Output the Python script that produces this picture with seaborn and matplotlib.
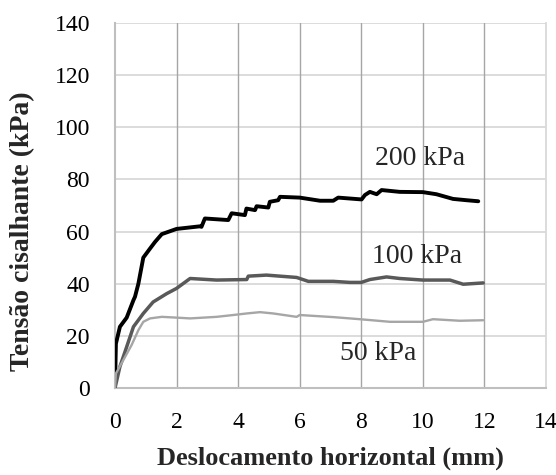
import matplotlib
matplotlib.use("Agg")
import matplotlib.pyplot as plt
import seaborn as sns
import pandas as pd

# 200 kPa series
x200 = [0, 0.03, 0.16, 0.38, 0.6, 0.65, 0.76, 0.92, 1.14, 1.3, 1.52, 2.0, 2.76, 2.81, 2.92,
        3.68, 3.79, 4.22, 4.27, 4.55, 4.6, 4.98, 5.03, 5.3, 5.36, 6.0, 6.66, 7.09, 7.25,
        8.01, 8.12, 8.28, 8.5, 8.66, 9.25, 10.0, 10.44, 10.98, 11.42, 11.8]
y200 = [0, 17, 23.5, 27, 33.7, 35, 40, 50, 53.5, 56, 59, 61, 62, 61.8, 65,
        64.4, 67, 66.3, 68.8, 68.2, 69.7, 69.2, 71.4, 72, 73.3, 73, 71.8, 71.8, 73,
        72.3, 74, 75.2, 74.3, 75.9, 75.2, 75.1, 74.3, 72.5, 72, 71.6]

# 100 kPa series
x100 = [0, 0.16, 0.38, 0.6, 0.92, 1.24, 1.68, 2.0, 2.44, 3.3, 4.28, 4.33, 4.92, 5.9,
        6.28, 7.09, 7.63, 8.0, 8.28, 8.82, 9.25, 10.0, 10.88, 11.31, 11.96]
y100 = [0, 8.2, 15.8, 23.5, 28.6, 33, 36.2, 38.2, 42, 41.4, 41.6, 42.9, 43.3, 42.4,
        40.9, 40.9, 40.5, 40.5, 41.6, 42.6, 42, 41.4, 41.4, 39.8, 40.3]

# 50 kPa series
x50 = [0, 0.03, 0.27, 0.54, 0.76, 0.92, 1.14, 1.52, 2.0, 2.44, 3.3, 3.84, 4.28, 4.71,
       5.14, 5.9, 6.0, 7.09, 7.95, 8.93, 10.0, 10.33, 11.2, 11.96]
y50 = [0, 5.6, 10.7, 16.5, 22.2, 25.4, 26.7, 27.3, 27, 26.7, 27.3, 28, 28.6, 29.1,
       28.6, 27.3, 28, 27.2, 26.4, 25.4, 25.4, 26.4, 25.8, 26]

labels = ["200 kPa", "100 kPa", "50 kPa"]
label_pos_x = [9.9, 9.8, 8.55]
label_pos_y = [88, 50.3, 13.3]
xticks = [0, 2, 4, 6, 8, 10, 12, 14]
yticks = [0, 20, 40, 60, 80, 100, 120, 140]

df = pd.concat([
    pd.DataFrame({"x": x200, "y": y200, "s": labels[0]}),
    pd.DataFrame({"x": x100, "y": y100, "s": labels[1]}),
    pd.DataFrame({"x": x50, "y": y50, "s": labels[2]}),
], ignore_index=True)

sns.set_style("white")
plt.rcParams["font.family"] = ["Liberation Serif", "DejaVu Serif"]

fig = plt.figure(figsize=(5.56, 4.75), dpi=100)
ax = fig.add_axes([0.2068, 0.183, 0.982 - 0.2068, 0.952 - 0.183])

palette = {labels[0]: "#000000", labels[1]: "#595959", labels[2]: "#a6a6a6"}
widths = {labels[0]: 2.8, labels[1]: 2.5, labels[2]: 1.7}
for s in labels:
    sub = df[df["s"] == s]
    sns.lineplot(data=sub, x="x", y="y", ax=ax, color=palette[s], lw=widths[s],
                 sort=False, estimator=None, legend=False, zorder=3)

ax.set_xlim(0, 14)
ax.set_ylim(0, 140)
ax.set_xticks(xticks)
ax.set_yticks(yticks)
ax.set_xticklabels([str(v) for v in xticks])
ax.set_yticklabels([str(v) for v in yticks])

# gridlines
for v in yticks[1:]:
    ax.axhline(v, color="#d9d9d9", lw=1.3, zorder=1)
for v in xticks[1:-1]:
    ax.axvline(v, color="#a6a6a6", lw=1.0, zorder=1)

ax.spines["top"].set_visible(False)
ax.spines["right"].set_color("#d9d9d9")
ax.spines["right"].set_linewidth(1.3)
ax.spines["left"].set_color("#bfbfbf")
ax.spines["bottom"].set_color("#bfbfbf")
ax.spines["left"].set_linewidth(1.5)
ax.spines["bottom"].set_linewidth(1.5)

ax.tick_params(axis="both", direction="out", length=6, width=1.3, color="#bfbfbf",
               labelsize=17, labelcolor="black")
ax.tick_params(axis="x", pad=11)
ax.tick_params(axis="y", pad=12)

ax.set_xlabel("Deslocamento horizontal (mm)", fontsize=19, fontweight="bold", labelpad=10)
ax.set_ylabel("Tensão cisalhante (kPa)", fontsize=20, fontweight="bold")
ax.yaxis.set_label_coords(-0.2135, 0.43)
ax.yaxis.label.set_va("center")

for t, lx, ly in zip(labels, label_pos_x, label_pos_y):
    ax.text(lx, ly, t, fontsize=20, ha="center", va="center", zorder=4)

fig.savefig("out.png", dpi=100)
